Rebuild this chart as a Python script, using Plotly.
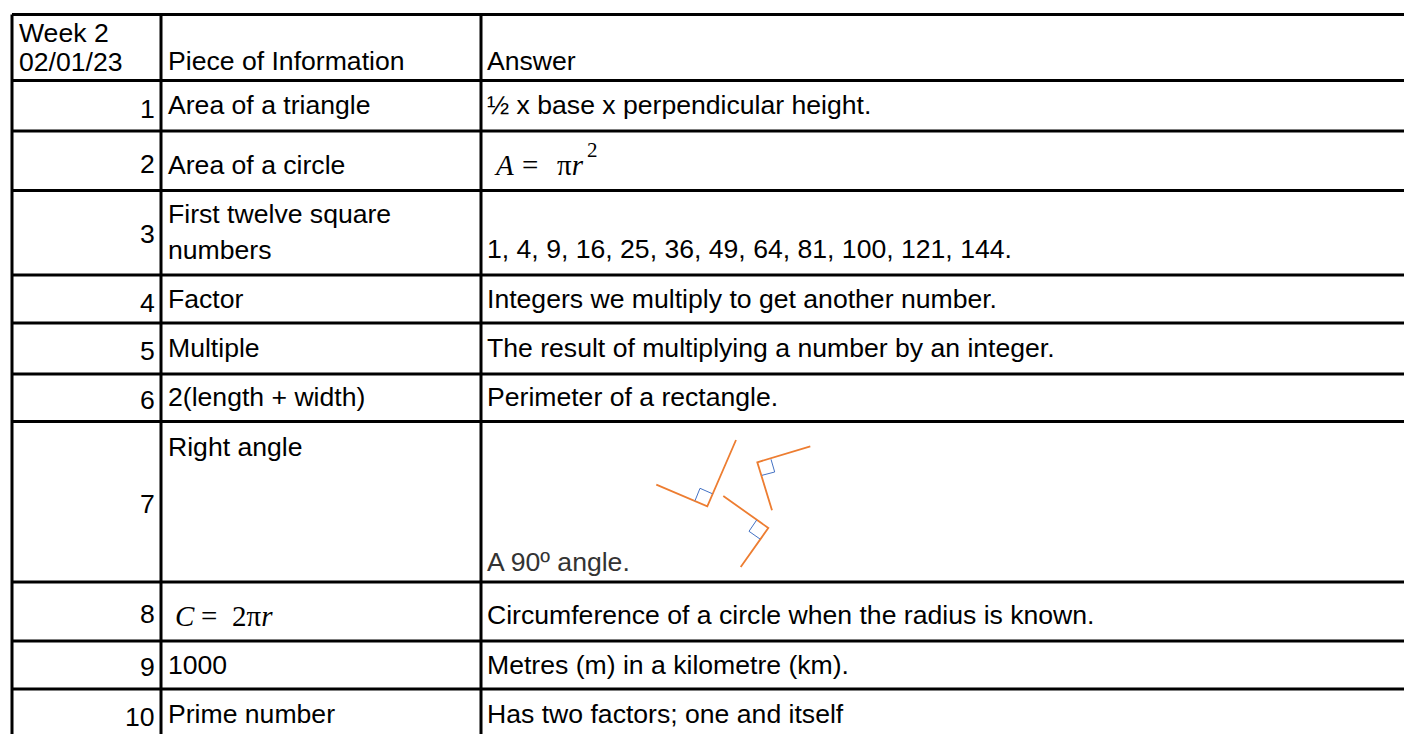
"""Week 2 knowledge table, drawn on a pixel-sized plotly canvas."""

import plotly.graph_objects as go

WIDTH = 1404
HEIGHT = 734

col_edges = [12, 161, 481, 1410]
row_edges = [14.5, 80.5, 131, 190.5, 275, 323, 374, 421.5, 582, 641, 689, 740]

numbers = ["1", "2", "3", "4", "5", "6", "7", "8", "9", "10"]
number_y = [109, 164, 234, 303, 351, 400, 504, 614, 667, 717]

info = [
    "Area of a triangle",
    "Area of a circle",
    "First twelve square",
    "numbers",
    "Factor",
    "Multiple",
    "2(length + width)",
    "Right angle",
    "1000",
    "Prime number",
]
info_y = [105, 165, 214, 250, 299, 348, 397, 447, 665, 714]

answers = [
    "½ x base x perpendicular height.",
    "1, 4, 9, 16, 25, 36, 49, 64, 81, 100, 121, 144.",
    "Integers we multiply to get another number.",
    "The result of multiplying a number by an integer.",
    "Perimeter of a rectangle.",
    "Circumference of a circle when the radius is known.",
    "Metres (m) in a kilometre (km).",
    "Has two factors; one and itself",
]
answer_y = [105, 249, 299, 348, 397, 615, 665, 714]

orange_angles = [
    ([656.3, 707.3, 736], [484.7, 506.3, 440]),
    ([810.3, 757.3, 772], [446.3, 462.3, 510.3]),
    ([723.3, 768.3, 740.7], [496, 528, 567]),
]
blue_marks = [
    ([695, 700, 712.3], [500.7, 488.3, 493.7]),
    ([771, 774.7, 762], [459.3, 472, 475.3]),
    ([756.7, 749, 760], [520, 531.3, 539]),
]

# formula pieces: text, left edge
area_formula = [("<i>A</i>", 493), ("=", 521), ("π<i>r</i>", 556)]
circumference_formula = [("<i>C</i>", 174), ("=", 200), ("2π<i>r</i>", 231)]

FONT = "Liberation Sans, Arial, sans-serif"
MATH_FONT = "Liberation Serif, serif"
TEXT_SIZE = 26.6
MATH_SIZE = 29
BLACK = "#000000"


def add_text(fig, x, y, text, anchor="left", color=BLACK, size=TEXT_SIZE, family=FONT):
    fig.add_annotation(
        x=x,
        y=y,
        text=text,
        xref="x",
        yref="y",
        xanchor=anchor,
        yanchor="middle",
        align=anchor,
        showarrow=False,
        borderpad=0,
        font={"family": family, "size": size, "color": color},
    )


fig = go.Figure()

for x in col_edges[:-1]:
    fig.add_trace(
        go.Scatter(
            x=[x, x],
            y=[row_edges[0], row_edges[-1]],
            mode="lines",
            line={"color": BLACK, "width": 3},
            showlegend=False,
            hoverinfo="skip",
        )
    )
for y in row_edges[:-1]:
    fig.add_trace(
        go.Scatter(
            x=[col_edges[0], col_edges[-1]],
            y=[y, y],
            mode="lines",
            line={"color": BLACK, "width": 3},
            showlegend=False,
            hoverinfo="skip",
        )
    )

for xs, ys in orange_angles:
    fig.add_trace(
        go.Scatter(
            x=xs, y=ys, mode="lines", line={"color": "#ed7d31", "width": 1.8}, showlegend=False, hoverinfo="skip"
        )
    )
for xs, ys in blue_marks:
    fig.add_trace(
        go.Scatter(x=xs, y=ys, mode="lines", line={"color": "#4472c4", "width": 1}, showlegend=False, hoverinfo="skip")
    )

# header
add_text(fig, 18, 33, "Week 2")
add_text(fig, 18, 62, "02/01/23")
add_text(fig, 167, 61, "Piece of Information")
add_text(fig, 486, 61, "Answer")

for label, y in zip(numbers, number_y):
    add_text(fig, 156, y, label, anchor="right")
for label, y in zip(info, info_y):
    add_text(fig, 166.5, y, label)
for label, y in zip(answers, answer_y):
    add_text(fig, 486, y, label)

# formulas and the grey cell text
for label, x in area_formula:
    add_text(fig, x, 165, label, size=MATH_SIZE, family=MATH_FONT)
add_text(fig, 586, 150, "2", size=21, family=MATH_FONT)
for label, x in circumference_formula:
    add_text(fig, x, 616, label, size=MATH_SIZE, family=MATH_FONT)
add_text(fig, 486, 562, "A 90º angle.", color="#333333")

fig.update_layout(
    width=WIDTH,
    height=HEIGHT,
    margin={"l": 0, "r": 0, "t": 0, "b": 0},
    paper_bgcolor="white",
    plot_bgcolor="white",
    xaxis={"range": [0, WIDTH], "visible": False, "fixedrange": True},
    yaxis={"range": [HEIGHT, 0], "visible": False, "fixedrange": True},
)

fig.write_html("out.html", config={"displayModeBar": False}, post_script="document.body.style.margin = '0';")
